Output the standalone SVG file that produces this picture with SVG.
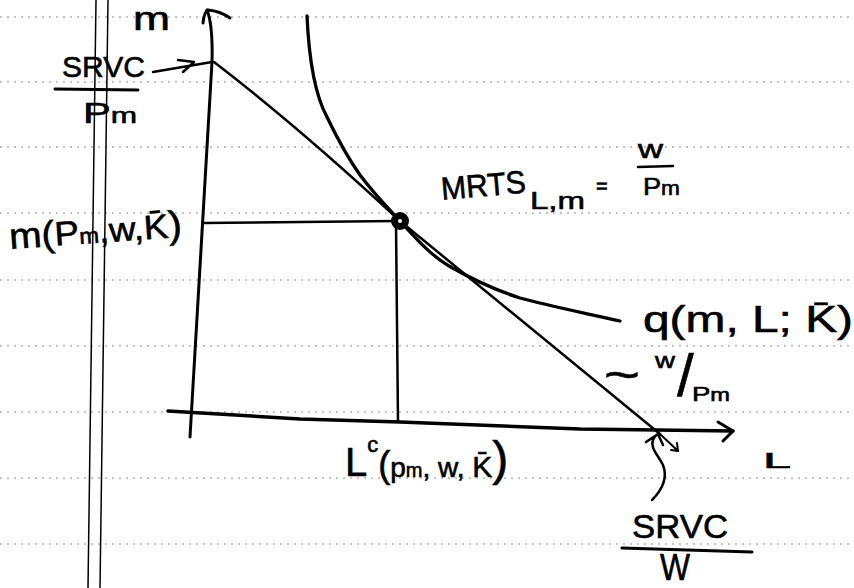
<svg xmlns="http://www.w3.org/2000/svg" width="854" height="588" viewBox="0 0 854 588">
<style>
.rule{stroke:#8a8a8a;stroke-width:1;stroke-dasharray:2 5;fill:none}
.margin{stroke:#000;stroke-width:1.5;fill:none}
.ink{stroke:#000;fill:none;stroke-linecap:round;stroke-linejoin:round}
text{font-family:"Liberation Sans","DejaVu Sans",sans-serif;fill:#000;stroke:#000;stroke-width:0.6}
</style>
<rect width="854" height="588" fill="#fff"/>
<g id="paper">
<line class="rule" x1="0" y1="17" x2="854" y2="17"/>
<line class="rule" x1="0" y1="82" x2="854" y2="82"/>
<line class="rule" x1="0" y1="147" x2="854" y2="147"/>
<line class="rule" x1="0" y1="213" x2="854" y2="213"/>
<line class="rule" x1="0" y1="280" x2="854" y2="280"/>
<line class="rule" x1="0" y1="346" x2="854" y2="346"/>
<line class="rule" x1="0" y1="412" x2="854" y2="412"/>
<line class="rule" x1="0" y1="478" x2="854" y2="478"/>
<line class="rule" x1="0" y1="544" x2="854" y2="544"/>
<line class="margin" x1="96" y1="0" x2="88" y2="588"/>
<line class="margin" x1="108" y1="0" x2="100" y2="588"/>
</g>
<g id="connectors">
<path id="m-axis" class="ink" stroke-width="3" d="M190,437 L212,62 Q213,25 207,10"/>
<path class="ink" stroke-width="3" d="M203,23 Q204,12 208,10 Q220,11 230,18"/>
<path id="L-axis" class="ink" stroke-width="3.5" d="M168,411 L300,419 L400,422 L580,429 L733,431"/>
<path class="ink" stroke-width="3" d="M718,422 L733,431 L723,441"/>
<path id="isocost" class="ink" stroke-width="2.5" d="M214,62 Q300,128 400,221 L660,434"/>
<path class="ink" stroke-width="2" d="M660,434 L678,451 M671,450 L678,451 L677,443"/>
<path id="isoquant" class="ink" stroke-width="3.3" d="M307,16 C309,60 315,95 327,117 C338,140 348,158 360,175 C375,195 388,208 400,221 C415,237 430,255 449,266 C470,278 495,290 520,298 C545,305 580,312 620,321"/>
<path class="ink" stroke-width="2.5" d="M203,223 L396,221"/>
<path class="ink" stroke-width="2.5" d="M396,224 L398,421"/>
<path class="ink" stroke-width="2.5" d="M153,72 L212,62 M178,60 L194,62 L183,72"/>
<path class="ink" stroke-width="2.5" d="M652,500 C662,490 668,478 663,465 C658,455 650,448 653,440 C654,437 656,435 658,434 M646,442 L658,434 L663,445"/>
<circle cx="400" cy="221" r="5.5" fill="#fff" stroke="#000" stroke-width="7"/>
</g>
<g id="label-m-axis"><text x="133" y="30" font-size="33" textLength="37" lengthAdjust="spacingAndGlyphs">m</text></g>
<g id="label-L-axis"><text x="763" y="468" font-size="22" textLength="28" lengthAdjust="spacingAndGlyphs">L</text></g>
<g id="label-srvc-pm">
<text x="62" y="77" font-size="30" textLength="83" lengthAdjust="spacingAndGlyphs">SRVC</text>
<line class="ink" stroke-width="3" x1="55" y1="89" x2="138" y2="90"/>
<text x="83" y="123" textLength="54" lengthAdjust="spacingAndGlyphs"><tspan font-size="29">P</tspan><tspan font-size="22">m</tspan></text>
</g>
<g id="label-m-demand">
<text x="10" y="249" transform="rotate(-4 10 249)" textLength="173" lengthAdjust="spacingAndGlyphs"><tspan font-size="36">m(</tspan><tspan font-size="34">P</tspan><tspan font-size="22">m</tspan><tspan font-size="34">,w,K̄</tspan><tspan font-size="38">)</tspan></text>
</g>
<g id="label-mrts">
<text x="442" y="200" font-size="32" transform="rotate(-5 442 200)" textLength="85" lengthAdjust="spacingAndGlyphs">MRTS</text>
<text x="530" y="209" font-size="24" textLength="55" lengthAdjust="spacingAndGlyphs">L,m</text>
<text x="596" y="193" font-size="20">=</text>
<text x="638" y="158" font-size="26" textLength="25" lengthAdjust="spacingAndGlyphs">w</text>
<line class="ink" stroke-width="2.5" x1="638" y1="167" x2="673" y2="166"/>
<text x="643" y="195" textLength="37" lengthAdjust="spacingAndGlyphs"><tspan font-size="24">P</tspan><tspan font-size="20">m</tspan></text>
</g>
<g id="label-isoquant">
<text x="643" y="332" font-size="36" textLength="210" lengthAdjust="spacingAndGlyphs">q(m, L; K̄)</text>
</g>
<g id="label-slope">
<text x="604" y="391" font-size="48" textLength="36" lengthAdjust="spacingAndGlyphs">~</text>
<text x="655" y="368" font-size="22" textLength="20" lengthAdjust="spacingAndGlyphs">w</text>
<text x="677" y="396" font-size="60">/</text>
<text x="692" y="401" textLength="38" lengthAdjust="spacingAndGlyphs"><tspan font-size="21">P</tspan><tspan font-size="18">m</tspan></text>
</g>
<g id="label-Lc">
<text x="345" y="476"><tspan font-size="40">L</tspan><tspan font-size="22" dy="-24">c</tspan><tspan font-size="36" dy="25">(</tspan><tspan font-size="28">p</tspan><tspan font-size="20">m</tspan><tspan font-size="28">, w, </tspan><tspan font-size="30">K̄</tspan><tspan font-size="48" dy="-2">)</tspan></text>
</g>
<g id="label-srvc-w">
<text x="632" y="538" font-size="34" textLength="96" lengthAdjust="spacingAndGlyphs">SRVC</text>
<line class="ink" stroke-width="3" x1="622" y1="548" x2="752" y2="552"/>
<text x="660" y="580" font-size="37" textLength="30" lengthAdjust="spacingAndGlyphs">W</text>
</g>
</svg>
